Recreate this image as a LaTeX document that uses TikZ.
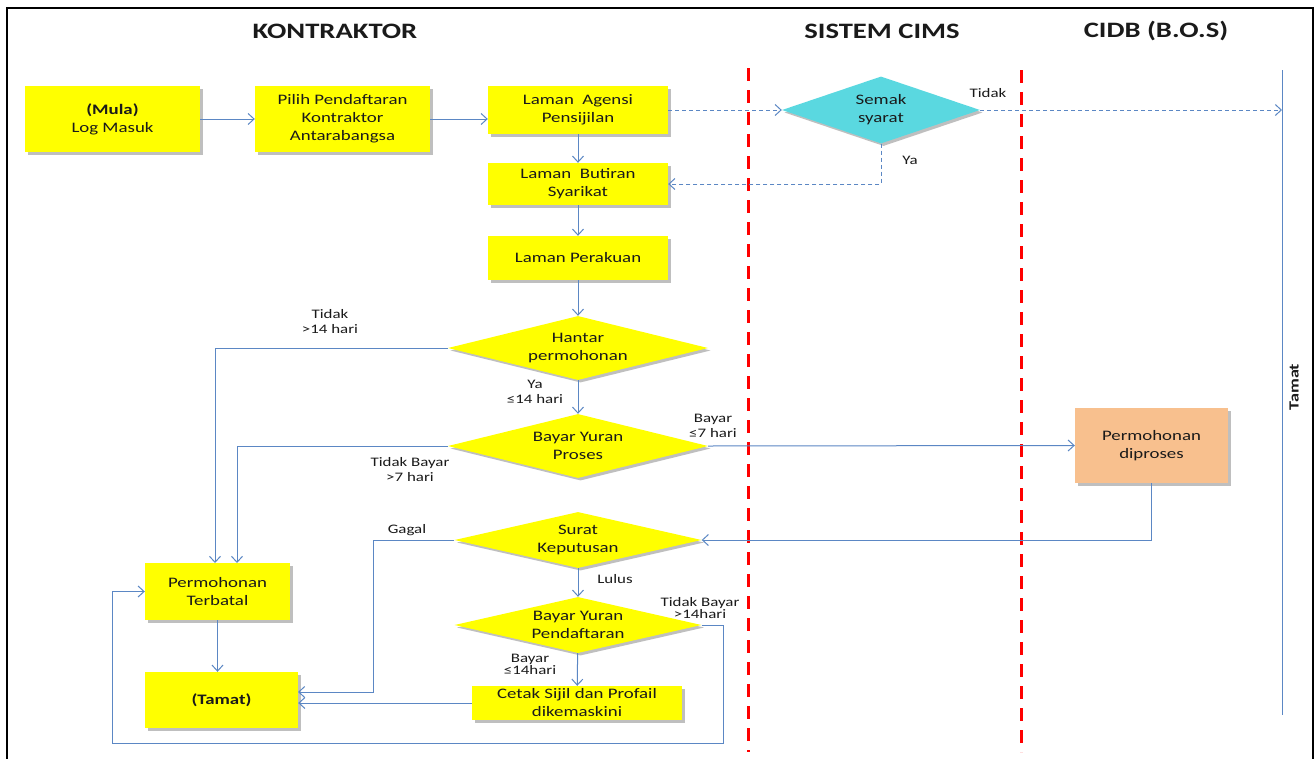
\documentclass[tikz,border=0pt]{standalone}
\usepackage{fontspec}
\setmainfont{Carlito}[FakeStretch=1.3]
\usetikzlibrary{shapes.geometric,arrows.meta,shadows}
\definecolor{lineblue}{HTML}{5B87C4}
\definecolor{boxyellow}{HTML}{FFFF00}
\definecolor{semakcyan}{HTML}{5AD8E0}
\definecolor{procorange}{HTML}{F8C08E}
\definecolor{txt}{HTML}{1A1A1A}
\begin{document}
\begin{tikzpicture}[x=1pt,y=-1pt,
  shade/.style={drop shadow={shadow xshift=2.5pt,shadow yshift=-2.5pt,fill=black!45,opacity=.55}},
  box/.style={shade,fill=boxyellow,draw=none,align=center,inner sep=0pt,text=txt,
    font=\fontsize{14.5}{18}\selectfont},
  dia/.style={shade,shape=diamond,aspect=4,fill=boxyellow,draw=none,align=center,inner sep=0pt,text=txt,
    font=\fontsize{14.5}{18}\selectfont},
  lbl/.style={align=center,inner sep=0pt,text=txt,font=\fontsize{13}{15}\selectfont},
  title/.style={inner sep=0pt,text=txt,font=\fontsize{22}{26}\selectfont\bfseries},
  conn/.style={draw=lineblue,line width=1pt},
  arr/.style={conn,-{Straight Barb[length=6pt,width=11pt]}},
  darr/.style={arr,dashed,dash pattern=on 4pt off 3pt},
  lane/.style={draw=red,line width=3pt,dash pattern=on 13pt off 9pt}]
\useasboundingbox (0,0) rectangle (1315,758);
\fill[white] (0,0) rectangle (1315,758);
% frame
\coordinate (f1) at (7,760);
\coordinate (f2) at (7,8);
\coordinate (f3) at (1313,8);
\coordinate (f4) at (1313,760);
\draw[line width=2pt] (f1) -- (f2) -- (f3) -- (f4);
% titles
\node[title] (tkon) at (335,31) {KONTRAKTOR};
\node[title] (tsis) at (882,31) {SISTEM CIMS};
\node[title] (tcidb) at (1156,31) {CIDB (B.O.S)};
% lanes
\coordinate (la1) at (748,68);
\coordinate (la2) at (748,752);
\coordinate (lb1) at (1021,70);
\coordinate (lb2) at (1021,752);
\draw[lane] (la1) -- (la2);
\draw[lane] (lb1) -- (lb2);
% end line
\coordinate (e1) at (1282,70);
\coordinate (e2) at (1282,715);
\draw[conn] (e1) -- (e2);
\node[rotate=90,inner sep=0pt,text=txt,font=\fontsize{14}{16}\selectfont\bfseries] (tamatv) at (1294,387) {Tamat};
% nodes
\node[box,minimum width=175pt,minimum height=66pt] (mula) at (112.5,119) {\textbf{(Mula)}\\Log Masuk};
\node[box,minimum width=175pt,minimum height=66pt] (pilih) at (342.5,119) {Pilih Pendaftaran\\Kontraktor\\Antarabangsa};
\node[box,minimum width=180pt,minimum height=48pt] (agensi) at (578,110) {Laman~~Agensi\\Pensijilan};
\node[box,minimum width=180pt,minimum height=42pt] (butiran) at (578,184) {Laman~~Butiran\\Syarikat};
\node[box,minimum width=180pt,minimum height=44pt] (perakuan) at (578,258) {Laman Perakuan};
\node[dia,minimum width=260pt,minimum height=64pt] (hantar) at (578,348) {Hantar\\permohonan};
\node[dia,minimum width=260pt,minimum height=64pt] (bproses) at (578,446) {Bayar Yuran\\Proses};
\node[dia,minimum width=247pt,minimum height=56pt] (surat) at (578,540) {Surat\\Keputusan};
\node[dia,minimum width=247pt,minimum height=56pt] (bpend) at (578,625) {Bayar Yuran\\Pendaftaran};
\node[box,minimum width=210pt,minimum height=34pt] (cetak) at (577,703) {Cetak Sijil dan Profail\\dikemaskini};
\node[box,minimum width=145pt,minimum height=57pt] (terbatal) at (217.5,591.5) {Permohonan\\Terbatal};
\node[box,minimum width=153pt,minimum height=56pt] (tamat) at (221.5,700) {\textbf{(Tamat)}};
\node[dia,fill=semakcyan,minimum width=198pt,minimum height=67pt] (semak) at (881,110) {Semak\\syarat};
\node[box,fill=procorange,minimum width=153pt,minimum height=75pt] (diproses) at (1151.5,445.5) {Permohonan\\diproses};
% helper coordinates
\coordinate (t1) at (215,563);
\coordinate (t2) at (237,563);
\coordinate (gx) at (373,692);
\coordinate (g2) at (298,692);
\coordinate (l1) at (723,743);
\coordinate (l2) at (112,743);
% connectors
\draw[arr] (mula.east) -- (pilih.west);
\draw[arr] (pilih.east) -- (pilih.east -| agensi.west);
\draw[darr] (agensi.east) -- (semak.west);
\draw[darr] (semak.east) -- (semak.east -| e1);
\draw[darr] (semak.south) |- (butiran.east);
\draw[arr] (agensi) -- (butiran);
\draw[arr] (butiran) -- (perakuan);
\draw[arr] (perakuan) -- (hantar);
\draw[arr] (hantar) -- (bproses);
\draw[arr] (hantar.west) -| (t1);
\draw[arr] (bproses.west) -| (t2);
\draw[arr] (bproses.east) -- (diproses.west);
\draw[arr] (diproses.south) |- (surat.east);
\draw[arr] (surat) -- (bpend);
\draw[arr] (bpend) -- (cetak);
\draw[arr] (surat.west) -| (gx) -- (g2);
\draw[arr] (cetak.west) -- (cetak.west -| tamat.east);
\draw[arr] (terbatal.south) -- (terbatal.south |- tamat.north);
\draw[arr] (bpend.east) -| (l1) -- (l2) |- (terbatal.west);
% labels
\node[lbl] (lt1) at (988,93) {Tidak};
\node[lbl] (ly1) at (910,160) {Ya};
\node[lbl] (lt2) at (330,322) {Tidak\\>14 hari};
\node[lbl] (ly2) at (535,392) {Ya\\≤14 hari};
\node[lbl] (lb3) at (713,426) {Bayar\\≤7 hari};
\node[lbl] (lt3) at (410,470) {Tidak Bayar\\>7 hari};
\node[lbl] (lg) at (407,530) {Gagal};
\node[lbl] (ll) at (615,579) {Lulus};
\node[lbl,font=\fontsize{13}{12}\selectfont] (lt4) at (700,608) {Tidak Bayar\\>14hari};
\node[lbl,font=\fontsize{13}{12}\selectfont] (lb4) at (530,664) {Bayar\\≤14hari};
\end{tikzpicture}
\end{document}
